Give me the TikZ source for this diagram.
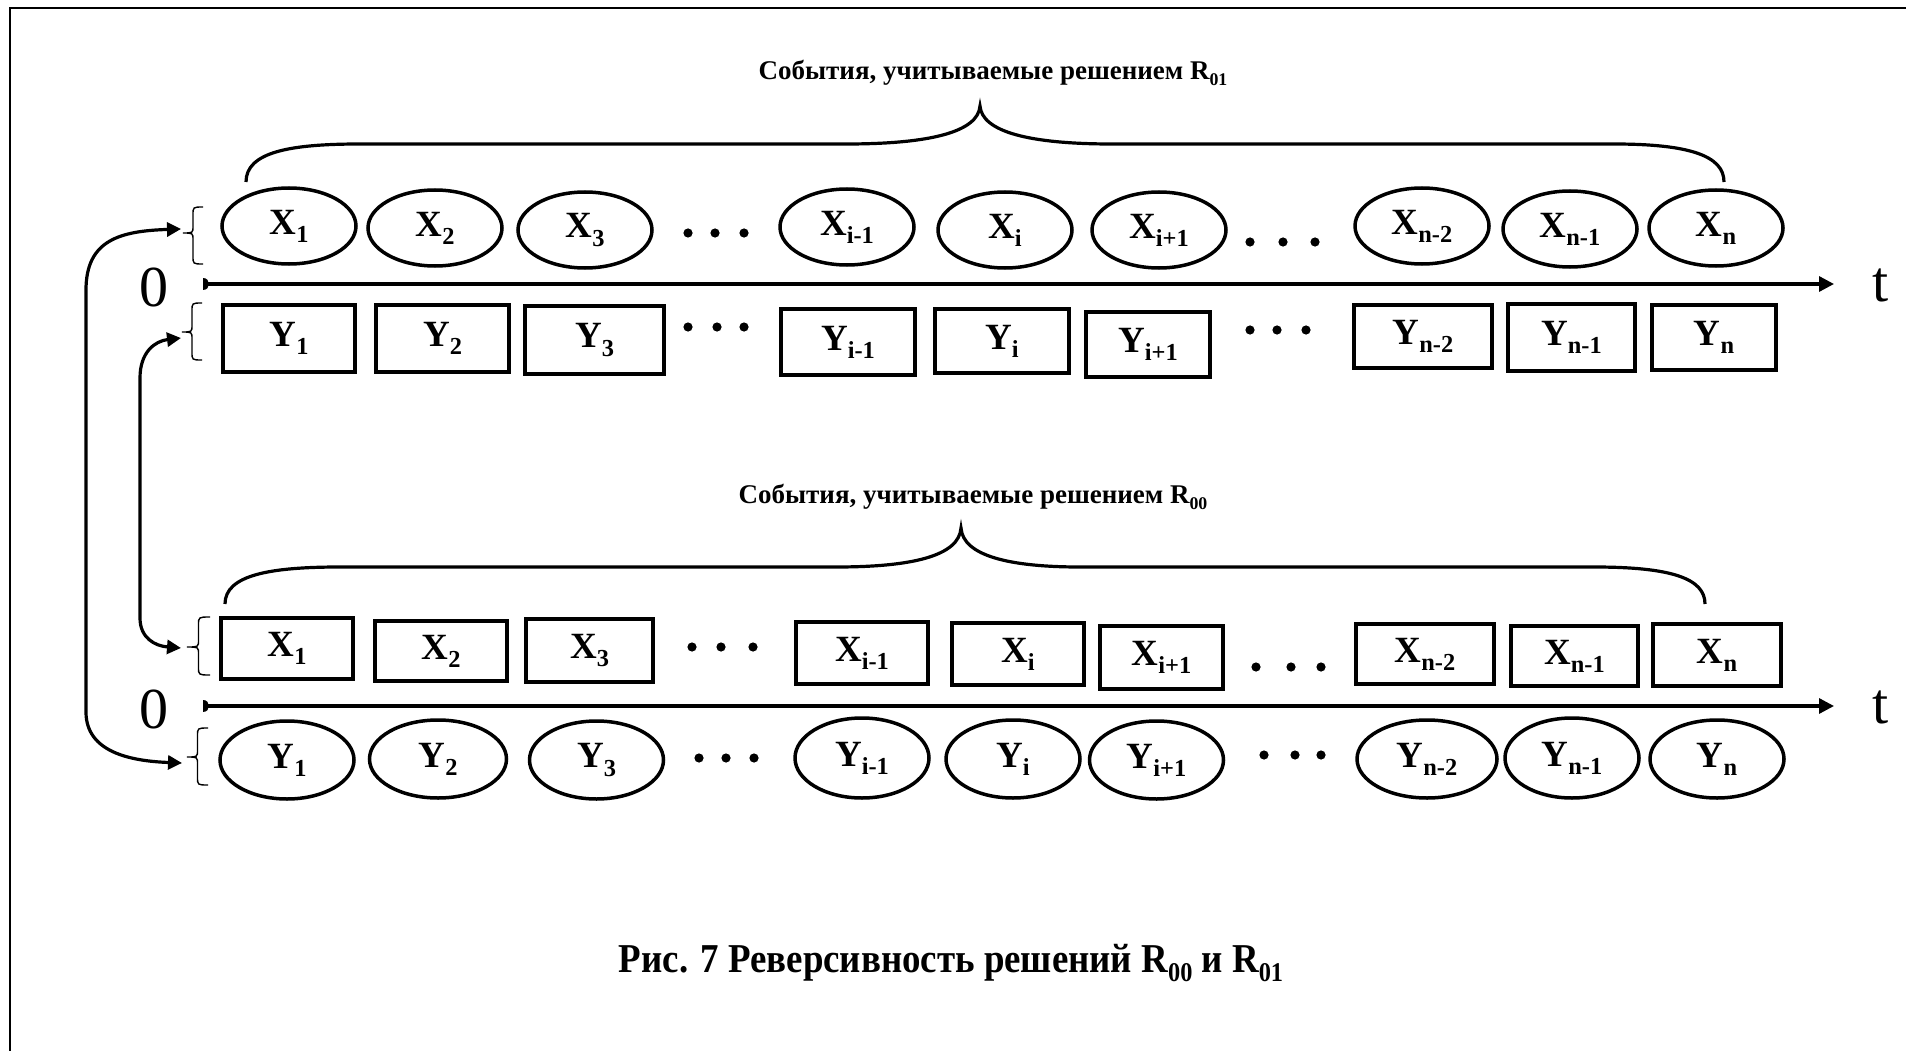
\documentclass[tikz,border=0pt]{standalone}
\usepackage{fontspec}
\setmainfont{Liberation Serif}
\newfontfamily\capfont[FakeStretch=0.9]{Liberation Serif}
\usetikzlibrary{arrows.meta,shapes.geometric}
\newcommand\sbs[1]{\raisebox{-0.22em}{\scalebox{0.66}{#1}}}
\newcommand\sbrace[5]{%
  \draw[thinbr] (#1,#3) .. controls ({(#1+#2)/2},#3) .. ({(#1+#2)/2},#3+8)
    -- ({(#1+#2)/2},#4-7) .. controls ({(#1+#2)/2},#4) .. (#2,#4)
    .. controls ({(#1+#2)/2},#4) .. ({(#1+#2)/2},#4+7)
    -- ({(#1+#2)/2},#5-8) .. controls ({(#1+#2)/2},#5) .. (#1,#5);}
\begin{document}
\begin{tikzpicture}[x=1pt,y=-1pt,
  lbl/.style={font=\fontsize{37}{40}\selectfont\bfseries, inner sep=0pt},
  oval/.style={lbl, ellipse, draw, line width=3.5pt, minimum width=134pt, minimum height=76pt},
  bx/.style 2 args={lbl, rectangle, draw, line width=3.5pt, minimum width=#1pt, minimum height=#2pt},
  ttl/.style={font=\fontsize{27}{30}\selectfont\bfseries, inner sep=0pt},
  axl/.style={font=\fontsize{58}{60}\selectfont, inner sep=0pt},
  axis/.style={line width=3.2pt, -{Triangle[length=15pt,width=15pt]}},
  conn/.style={line width=3.2pt, {Triangle[length=14pt,width=14pt]}-{Triangle[length=14pt,width=14pt]}},
  bigbr/.style={line width=3.2pt},
  thinbr/.style={line width=1.4pt},
  frame/.style={line width=2.5pt}
]
\useasboundingbox (0,0) rectangle (1906,1051);
\fill[white] (0,0) rectangle (1906,1051);
% frame
\draw[frame] (10,1051) -- (10,8) -- (1906,8);

% ---------- upper diagram ----------
\node[ttl] (t01) at (993,73) {События, учитываемые решением R\sbs{01}};
\draw[bigbr] (246,182) .. controls (246,152) and (290,144) .. (360,144) -- (846,144)
  .. controls (930,144) and (978,132) .. (980,106)
  .. controls (982,132) and (1030,144) .. (1112,144) -- (1614,144)
  .. controls (1690,144) and (1724,156) .. (1724,182);

\node[oval] (ux1) at (289,226) {X\sbs{1}};
\node[oval] (ux2) at (435,228) {X\sbs{2}};
\node[oval] (ux3) at (585,230) {X\sbs{3}};
\node[oval] (uxa) at (847,227) {X\sbs{i-1}};
\node[oval] (uxb) at (1005,230) {X\sbs{i}};
\node[oval] (uxc) at (1159,230) {X\sbs{i+1}};
\node[oval] (uxd) at (1422,226) {X\sbs{n-2}};
\node[oval] (uxe) at (1570,229) {X\sbs{n-1}};
\node[oval] (uxf) at (1716,228) {X\sbs{n}};

\node[bx={132}{67}] (uy1) at (289,338.5) {Y\sbs{1}};
\node[bx={133}{67}] (uy2) at (442.5,338.5) {Y\sbs{2}};
\node[bx={139}{68}] (uy3) at (594.5,340) {Y\sbs{3}};
\node[bx={134}{66}] (uya) at (848,342) {Y\sbs{i-1}};
\node[bx={134}{64}] (uyb) at (1002,341) {Y\sbs{i}};
\node[bx={124}{65}] (uyc) at (1148,344.5) {Y\sbs{i+1}};
\node[bx={138}{63}] (uyd) at (1423,336.5) {Y\sbs{n-2}};
\node[bx={127}{67}] (uye) at (1571.5,337.5) {Y\sbs{n-1}};
\node[bx={124}{65}] (uyf) at (1714,337.5) {Y\sbs{n}};

\foreach \x/\y in {688/233,715/233,744/233,1250/242,1283/242,1315/242,
                   688/327,717/327,744/327,1250/330,1277/330,1306/330}
  \fill (\x,\y) circle[radius=4.6pt];

\coordinate (ua0) at (203,284);
\coordinate (ua1) at (1834,284);
\draw[axis] (ua0) -- (ua1);
\fill (203,278) -- (203,290) .. controls (211,290) and (211,278) .. (203,278) -- cycle;
\node[axl] (u0) at (154,287) {0};
\node[axl] (ut) at (1881,285) {t};

\sbrace{203}{183}{207}{233}{264}
\sbrace{202}{182}{303}{332}{360}

% ---------- lower diagram ----------
\node[ttl] (t00) at (973,497) {События, учитываемые решением R\sbs{00}};
\draw[bigbr] (225,604) .. controls (225,575) and (270,567) .. (340,567) -- (836,567)
  .. controls (912,567) and (959,556) .. (961,528)
  .. controls (963,556) and (1010,567) .. (1080,567) -- (1594,567)
  .. controls (1670,567) and (1705,578) .. (1705,604);

\node[bx={132}{61}] (lx1) at (287,648.5) {X\sbs{1}};
\node[bx={132}{60}] (lx2) at (441,651) {X\sbs{2}};
\node[bx={127}{63}] (lx3) at (589.5,650.5) {X\sbs{3}};
\node[bx={132}{62}] (lxa) at (862,653) {X\sbs{i-1}};
\node[bx={132}{62}] (lxb) at (1018,654) {X\sbs{i}};
\node[bx={123}{63}] (lxc) at (1161.5,657.5) {X\sbs{i+1}};
\node[bx={138}{60}] (lxd) at (1425,654) {X\sbs{n-2}};
\node[bx={127}{60}] (lxe) at (1574.5,656) {X\sbs{n-1}};
\node[bx={128}{62}] (lxf) at (1717,655) {X\sbs{n}};

\node[oval, minimum height=78pt] (ly1) at (287,760) {Y\sbs{1}};
\node[oval, minimum height=78pt, minimum width=137pt] (ly2) at (438,759) {Y\sbs{2}};
\node[oval, minimum height=78pt] (ly3) at (596.5,760) {Y\sbs{3}};
\node[oval, minimum height=80pt] (lya) at (862,758) {Y\sbs{i-1}};
\node[oval, minimum height=78pt] (lyb) at (1013,759) {Y\sbs{i}};
\node[oval, minimum height=78pt] (lyc) at (1156.5,760) {Y\sbs{i+1}};
\node[oval, minimum height=78pt, minimum width=140pt] (lyd) at (1427,759) {Y\sbs{n-2}};
\node[oval, minimum height=80pt] (lye) at (1572,758) {Y\sbs{n-1}};
\node[oval, minimum height=78pt] (lyf) at (1717,759) {Y\sbs{n}};

\foreach \x/\y in {692/647,721/647,753/647,1256/667,1291/667,1321/667,
                   699/758,726/758,754/758,1264/755,1295/755,1321/755}
  \fill (\x,\y) circle[radius=4.6pt];

\coordinate (la0) at (203,706);
\coordinate (la1) at (1834,706);
\draw[axis] (la0) -- (la1);
\fill (203,700) -- (203,712) .. controls (211,712) and (211,700) .. (203,700) -- cycle;
\node[axl] (l0) at (154,709) {0};
\node[axl] (lt) at (1881,707) {t};

\sbrace{210}{187}{617}{647}{675}
\sbrace{208}{187}{728}{757}{785}

% ---------- connectors ----------
\coordinate (pxT) at (181,229);
\coordinate (pyT) at (181,338);
\coordinate (pxB) at (181,648);
\coordinate (pyB) at (182,763);
\draw[conn] (pxT) .. controls (120,231) and (86,240) .. (86,290) -- (86,712)
  .. controls (86,752) and (130,761) .. (pyB);
\draw[conn] (pyT) .. controls (155,341) and (140,352) .. (140,378) -- (140,618)
  .. controls (140,638) and (155,646) .. (pxB);

% caption
\node[font=\capfont\fontsize{41}{44}\selectfont\bfseries, inner sep=0pt] (cap) at (951,963)
  {Рис. 7 Реверсивность решений R\sbs{00} и R\sbs{01}};
\end{tikzpicture}
\end{document}
